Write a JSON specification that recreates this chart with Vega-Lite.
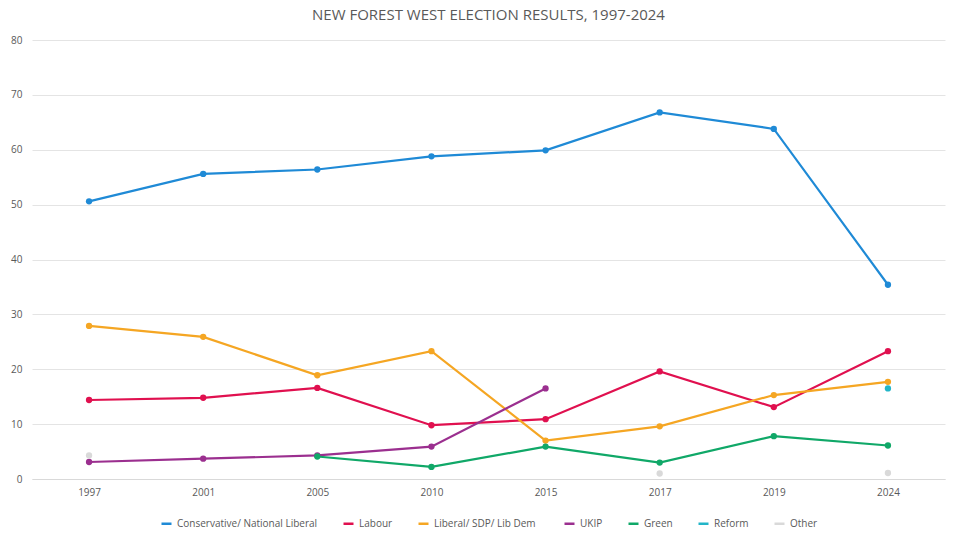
{
  "$schema": "https://vega.github.io/schema/vega-lite/v6.json",
  "width": 960,
  "height": 537,
  "autosize": {"type": "fit", "contains": "padding"},
  "padding": {"left": 10, "right": 15, "top": 8, "bottom": 8},
  "title": {"text": "NEW FOREST WEST ELECTION RESULTS, 1997-2024", "font": "Open Sans", "fontSize": 15, "fontWeight": "normal", "color": "#595959", "offset": 12},
  "config": {"view": {"stroke": null}, "font": "Open Sans", "legend": {"layout": {"bottom": {"anchor": "middle"}}}},
  "data": {"values": [
    {"year": "1997", "party": "Conservative/ National Liberal", "pct": 50.6},
    {"year": "2001", "party": "Conservative/ National Liberal", "pct": 55.6},
    {"year": "2005", "party": "Conservative/ National Liberal", "pct": 56.4},
    {"year": "2010", "party": "Conservative/ National Liberal", "pct": 58.8},
    {"year": "2015", "party": "Conservative/ National Liberal", "pct": 59.9},
    {"year": "2017", "party": "Conservative/ National Liberal", "pct": 66.8},
    {"year": "2019", "party": "Conservative/ National Liberal", "pct": 63.8},
    {"year": "2024", "party": "Conservative/ National Liberal", "pct": 35.4},
    {"year": "1997", "party": "Labour", "pct": 14.4},
    {"year": "2001", "party": "Labour", "pct": 14.8},
    {"year": "2005", "party": "Labour", "pct": 16.6},
    {"year": "2010", "party": "Labour", "pct": 9.8},
    {"year": "2015", "party": "Labour", "pct": 10.9},
    {"year": "2017", "party": "Labour", "pct": 19.6},
    {"year": "2019", "party": "Labour", "pct": 13.1},
    {"year": "2024", "party": "Labour", "pct": 23.3},
    {"year": "1997", "party": "Liberal/ SDP/ Lib  Dem", "pct": 27.9},
    {"year": "2001", "party": "Liberal/ SDP/ Lib  Dem", "pct": 25.9},
    {"year": "2005", "party": "Liberal/ SDP/ Lib  Dem", "pct": 18.9},
    {"year": "2010", "party": "Liberal/ SDP/ Lib  Dem", "pct": 23.3},
    {"year": "2015", "party": "Liberal/ SDP/ Lib  Dem", "pct": 7.0},
    {"year": "2017", "party": "Liberal/ SDP/ Lib  Dem", "pct": 9.6},
    {"year": "2019", "party": "Liberal/ SDP/ Lib  Dem", "pct": 15.3},
    {"year": "2024", "party": "Liberal/ SDP/ Lib  Dem", "pct": 17.7},
    {"year": "1997", "party": "UKIP", "pct": 3.1},
    {"year": "2001", "party": "UKIP", "pct": 3.7},
    {"year": "2005", "party": "UKIP", "pct": 4.3},
    {"year": "2010", "party": "UKIP", "pct": 5.9},
    {"year": "2015", "party": "UKIP", "pct": 16.5},
    {"year": "2005", "party": "Green", "pct": 4.1},
    {"year": "2010", "party": "Green", "pct": 2.2},
    {"year": "2015", "party": "Green", "pct": 5.9},
    {"year": "2017", "party": "Green", "pct": 3.0},
    {"year": "2019", "party": "Green", "pct": 7.8},
    {"year": "2024", "party": "Green", "pct": 6.1},
    {"year": "2024", "party": "Reform", "pct": 16.5},
    {"year": "1997", "party": "Other", "pct": 4.3},
    {"year": "2001", "party": "Other", "pct": null},
    {"year": "2017", "party": "Other", "pct": 1.0},
    {"year": "2019", "party": "Other", "pct": null},
    {"year": "2024", "party": "Other", "pct": 1.1}
  ]},
  "encoding": {
    "x": {"field": "year", "type": "ordinal", "title": null, "sort": ["1997", "2001", "2005", "2010", "2015", "2017", "2019", "2024"], "scale": {"type": "point", "padding": 0.5},
      "axis": {"labelAngle": 0, "labelColor": "#595959", "labelFontSize": 10, "domainColor": "#d9d9d9", "ticks": false, "grid": false, "labelPadding": 8}},
    "y": {"field": "pct", "type": "quantitative", "title": null, "scale": {"domain": [0, 80]},
      "axis": {"tickCount": 8, "labelColor": "#595959", "labelFontSize": 10, "gridColor": "#e4e4e4", "domain": false, "ticks": false, "labelPadding": 10}},
    "color": {"field": "party", "type": "nominal", "title": null,
      "sort": ["Conservative/ National Liberal", "Labour", "Liberal/ SDP/ Lib  Dem", "UKIP", "Green", "Reform", "Other"],
      "scale": {"domain": ["Conservative/ National Liberal", "Labour", "Liberal/ SDP/ Lib  Dem", "UKIP", "Green", "Reform", "Other"],
        "range": ["#1f8ad6", "#e0104f", "#f5a623", "#9b2f8f", "#10a868", "#22b5c8", "#d9d9d9"]},
      "legend": {"orient": "bottom", "direction": "horizontal", "symbolType": "stroke", "symbolStrokeWidth": 2.5, "labelFontSize": 10, "labelColor": "#595959", "columnPadding": 20, "offset": 20}}
  },
  "layer": [
    {"mark": {"type": "line", "strokeWidth": 2.2}},
    {"mark": {"type": "point", "filled": true, "size": 40, "opacity": 1}}
  ]
}
